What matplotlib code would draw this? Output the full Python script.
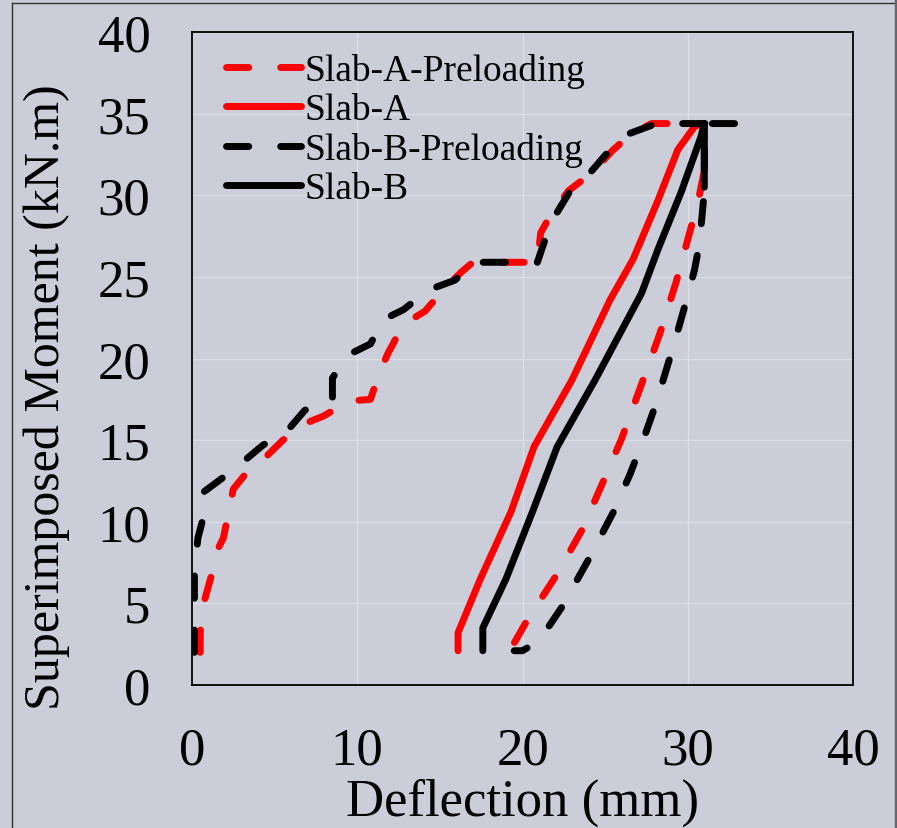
"""
Moment vs deflection for the two slabs, with and without preloading
"""
import matplotlib
matplotlib.use("Agg")
import matplotlib.pyplot as plt
from matplotlib.lines import Line2D

# Slab-A-Preloading (loading then unloading)
slab_a_pre_x = [0.5, 0.5, 0.6, 1.2, 1.4, 1.9, 2.2, 2.5, 3.3, 4.5, 5.5, 6.8, 8.0, 8.5,
                9.5, 10.8, 11.4, 11.9, 12.8, 14.1, 15.2, 16.3, 17.0, 20.9, 21.1, 21.7,
                22.8, 24.1, 25.5, 26.5, 27.8, 31.0,
                31.0, 30.6, 30.0, 29.3, 28.3, 27.3, 26.0, 24.9, 23.6, 22.1, 20.3,
                19.4, 18.5]
slab_a_pre_y = [2.0, 3.1, 4.6, 6.8, 8.0, 9.0, 10.5, 12.0, 13.0, 14.0, 15.0, 16.0, 16.5, 16.8,
                17.4, 17.5, 19.3, 20.4, 22.1, 22.9, 24.2, 25.3, 25.9, 25.9, 27.7, 28.8,
                30.3, 31.3, 32.8, 33.7, 34.4, 34.4,
                31.5, 29.5, 27.3, 24.7, 21.5, 18.7, 15.1, 12.5, 9.5, 6.8, 4.0,
                2.4, 2.1]

# Slab-A
slab_a_x = [16.1, 16.1, 17.45, 19.3, 20.7, 23.0, 25.3, 26.7, 28.2, 29.4, 30.4, 30.8]
slab_a_y = [2.1, 3.2, 6.5, 10.6, 14.6, 18.7, 23.6, 26.1, 29.7, 32.8, 34.2, 34.4]

# Slab-B-Preloading (loading then unloading)
slab_b_pre_x = [0.15, 0.15, 0.15, 0.15, 0.36, 0.67, 0.67, 2.0, 3.0, 4.3, 5.7, 6.8, 7.8,
                8.5, 8.5, 9.4, 10.8, 11.6, 12.8, 14.3, 15.9, 17.2, 20.9, 21.5, 22.0,
                22.9, 24.1, 25.3, 26.5, 28.1, 32.9, 31.0,
                31.0, 30.7, 30.4, 29.9, 29.2, 28.1, 27.3, 26.5, 25.5, 24.0, 22.4,
                21.0, 20.0, 19.5]
slab_b_pre_y = [2.0, 3.6, 5.4, 7.0, 9.0, 10.2, 11.8, 12.8, 13.6, 14.7, 15.5, 16.8, 17.6,
                17.6, 18.8, 20.2, 20.9, 22.4, 23.0, 24.2, 24.8, 25.9, 25.9, 27.7, 28.8,
                30.3, 31.4, 32.8, 33.8, 34.4, 34.4, 34.4,
                30.2, 27.0, 25.4, 23.5, 21.0, 17.3, 15.0, 12.9, 10.6, 7.7, 4.8,
                2.7, 2.1, 2.1]

# Slab-B
slab_b_x = [17.6, 17.6, 19.0, 20.6, 22.1, 24.4, 27.2, 28.2, 29.6, 30.8, 31.0, 31.0]
slab_b_y = [2.1, 3.5, 6.5, 10.6, 14.6, 18.7, 24.0, 26.7, 30.2, 33.6, 34.4, 30.5]

ticks = [0, 5, 10, 15, 20, 25, 30, 35, 40]
x_ticks = [0, 10, 20, 30, 40]

bg = "#cbcdd9"
plt.rcParams["font.family"] = ["Liberation Serif", "DejaVu Serif"]

fig = plt.figure(figsize=(8.97, 8.29), dpi=100, facecolor=bg)
ax = fig.add_axes([0.214, 0.1725, 0.737, 0.7875])
ax.set_facecolor(bg)

lw = 5.0
dash = (0, (3.2, 4.6))
common = dict(linewidth=lw, solid_capstyle="round", dash_capstyle="round",
              solid_joinstyle="round", dash_joinstyle="round")
ax.plot(slab_a_pre_x, slab_a_pre_y, color="#ff0000", linestyle=dash,
        label="Slab-A-Preloading", **common)
ax.plot(slab_a_x, slab_a_y, color="#ff0000", label="Slab-A", **common)
ax.plot(slab_b_pre_x, slab_b_pre_y, color="#000000", linestyle=dash,
        label="Slab-B-Preloading", **common)
ax.plot(slab_b_x, slab_b_y, color="#000000", label="Slab-B", **common)

ax.set_xlim(0, 40)
ax.set_ylim(0, 40)
ax.set_xticks(x_ticks)
ax.set_yticks(ticks)
ax.grid(True, color="#dcdde6", linewidth=1.0)
ax.set_axisbelow(True)
ax.tick_params(length=0, labelsize=38, pad=30)
for s in ax.spines.values():
    s.set_linewidth(1.3)
    s.set_color("#000000")

ax.set_xlabel("Deflection (mm)", fontsize=38, labelpad=2)
ax.set_ylabel("Superimposed Moment (kN.m)", fontsize=36)
ax.yaxis.set_label_coords(-0.185, 0.443)

leg = ax.legend(loc="upper left", frameon=False, fontsize=27, handlelength=2.0,
                handletextpad=0.1, labelspacing=0.12, borderaxespad=0.2,
                bbox_to_anchor=(0.017, 1.002))

# outer frame of the picture
fig.add_artist(Line2D([12 / 897, 12 / 897], [0, 1 - 4 / 829], transform=fig.transFigure,
                      color="#333333", linewidth=1.0))
fig.add_artist(Line2D([12 / 897, 1], [1 - 4 / 829, 1 - 4 / 829], transform=fig.transFigure,
                      color="#333333", linewidth=1.0))
fig.add_artist(Line2D([1 - 1.5 / 897, 1 - 1.5 / 897], [0, 1], transform=fig.transFigure,
                      color="#666666", linewidth=2.5))

fig.savefig("out.png", dpi=100, facecolor=bg)
